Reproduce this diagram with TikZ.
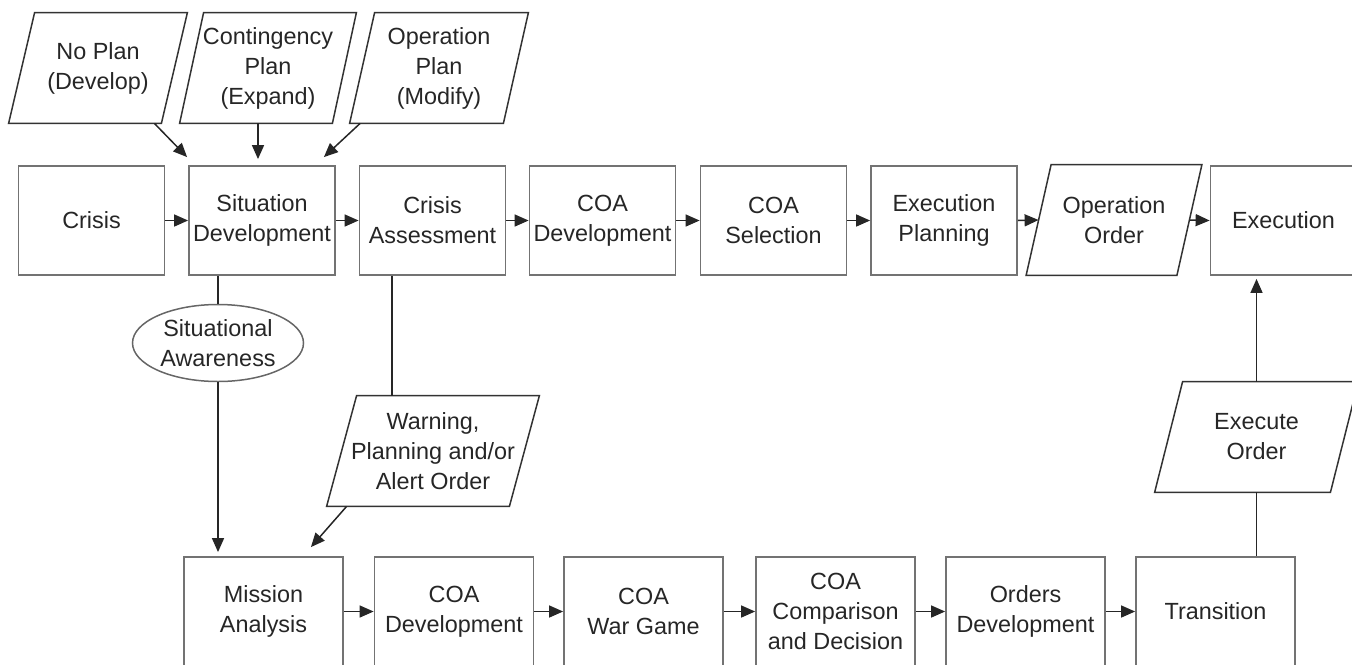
\documentclass[tikz,border=0pt]{standalone}
\usepackage{fontspec}
\setmainfont{Liberation Sans}
\usetikzlibrary{arrows.meta,shapes.geometric,calc}
\def\px{0.5pt}
\newcommand\fs{\fontsize{11.7pt}{15pt}\selectfont\color{black!85}}
\newcommand\paranode[7]{%
  \node[paratext, minimum width=#4*\px, minimum height=#5*\px] (#1) at (#2,#3) {#7};
  \draw[paraborder] ([xshift=-#6*0.25pt]#1.south west) -- ([xshift=-#6*0.25pt]#1.south east)
    -- ([xshift=#6*0.25pt]#1.north east) -- ([xshift=#6*0.25pt]#1.north west) -- cycle;}
\tikzset{
  box/.style={draw=black!55, line width=0.9pt, minimum width=146*\px, minimum height=109*\px,
    inner sep=0pt, align=center, font=\fs},
  lowbox/.style={box, minimum width=159*\px},
  paratext/.style={inner sep=0pt, align=center, font=\fs},
  paraborder/.style={draw=black!80, line width=0.75pt},
  oval/.style={ellipse, draw=black!60, line width=0.75pt, minimum width=171*\px, minimum height=77*\px,
    inner sep=0pt, align=center, font=\fs},
  conn/.style={draw=black!85, line width=0.75pt},
  arr/.style={conn, -{Triangle[length=7pt,width=6pt]}},
}
\begin{document}
\begin{tikzpicture}[x=0.5pt,y=-0.5pt]
\useasboundingbox (0,0) rectangle (1352,664);
% top inputs
\paranode{np}{98}{68}{152}{110}{26}{No Plan\\(Develop)}
\paranode{cp}{268}{68}{152}{110}{24}{Contingency\\Plan\\(Expand)}
\paranode{op}{439}{68}{153}{110}{25}{Operation\\Plan\\(Modify)}
% top row
\node[box] (crisis) at (91.5,220.5) {Crisis};
\node[box] (sd) at (262,220.5) {Situation\\Development};
\node[box] (ca) at (432.5,220.5) {Crisis\\Assessment};
\node[box] (cd) at (602.5,220.5) {COA\\Development};
\node[box] (cs) at (773.5,220.5) {COA\\Selection};
\node[box] (ep) at (944,220.5) {Execution\\Planning};
\paranode{oo}{1114}{220}{150}{110}{25}{Operation\\Order}
\node[box] (ex) at (1283.5,220.5) {Execution};
% middle
\node[oval] (sa) at (218,343) {Situational\\Awareness};
\paranode{wo}{433}{451}{182}{110}{30}{Warning,\\Planning and/or\\Alert Order}
\paranode{eo}{1256.5}{437}{175}{110}{28}{Execute\\Order}
% bottom row
\node[lowbox] (ma) at (263.5,611.5) {Mission\\Analysis};
\node[lowbox] (cd2) at (454,611.5) {COA\\Development};
\node[lowbox] (wg) at (643.5,611.5) {COA\\War Game};
\node[lowbox] (cc) at (835.5,611.5) {COA\\Comparison\\and Decision};
\node[lowbox] (od) at (1025.5,611.5) {Orders\\Development};
\node[lowbox] (tr) at (1215.5,611.5) {Transition};
% connectors top inputs
\draw[arr] ($(np.south east)+(-20,0)$) -- ($(sd.north west)+(-1,-8)$);
\draw[arr] ([xshift=-5pt]cp.south) -- ($([xshift=-5pt]cp.south |- sd.north)+(0,-6)$);
\draw[arr] ($(op.south west)+(-2,0)$) -- ($(sd.north east)+(-12,-8)$);
% top row flow
\draw[arr] (crisis) -- (sd);
\draw[arr] (sd) -- (ca);
\draw[arr] (ca) -- (cd);
\draw[arr] (cd) -- (cs);
\draw[arr] (cs) -- (ep);
\draw[arr] (ep.east) -- (oo.west);
\draw[arr] (oo.east) -- (ex.west);
% verticals
\draw[conn] (sa.north) -- (sa.north |- sd.south);
\draw[arr] (sa.south) -- ($(sa.south |- ma.north)+(0,-4)$);
\draw[conn] ([xshift=-20.25pt]ca.south) -- ([xshift=-20.25pt]ca.south |- wo.north);
\draw[arr] ($(wo.south west)+(5,0)$) -- ($(ma.north east)+(-33,-9)$);
\draw[conn] (eo.south) -- (eo.south |- tr.north);
\draw[arr] (eo.north) -- ($(eo.north |- ex.south)+(0,3)$);
% bottom row flow
\draw[arr] (ma) -- (cd2);
\draw[arr] (cd2) -- (wg);
\draw[arr] (wg) -- (cc);
\draw[arr] (cc) -- (od);
\draw[arr] (od) -- (tr);
\end{tikzpicture}
\end{document}
